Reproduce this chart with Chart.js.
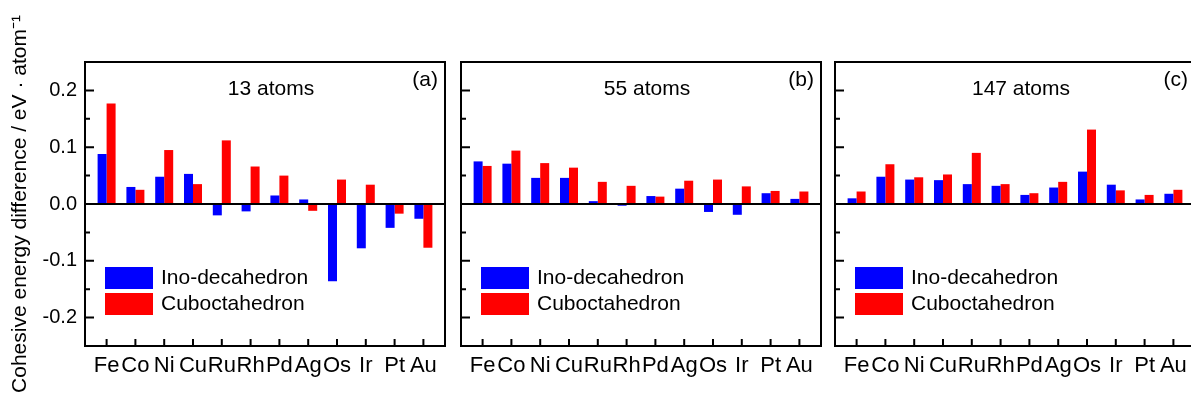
<!DOCTYPE html>
<html>
<head>
<meta charset="utf-8">
<script src="https://cdn.jsdelivr.net/npm/chart.js@4.4.0/dist/chart.umd.min.js"></script>
<style>
  html, body { margin: 0; padding: 0; background: #fff; overflow: hidden; width: 1191px; height: 399px; }
  .panel { position: absolute; top: 0; }
</style>
</head>
<body>
<div class="panel" style="left:0"><canvas id="chart-a" width="447" height="399"></canvas></div>
<div class="panel" style="left:455px"><canvas id="chart-b" width="368" height="399"></canvas></div>
<div class="panel" style="left:829px"><canvas id="chart-c" width="368" height="399"></canvas></div>
<script>
// Categories
const elements = ['Fe', 'Co', 'Ni', 'Cu', 'Ru', 'Rh', 'Pd', 'Ag', 'Os', 'Ir', 'Pt', 'Au'];

// Cohesive energy difference (eV/atom)
const ino13 = [0.088, 0.030, 0.048, 0.053, -0.020, -0.013, 0.015, 0.008, -0.136, -0.078, -0.042, -0.026];
const cubo13 = [0.177, 0.025, 0.095, 0.035, 0.112, 0.066, 0.050, -0.012, 0.043, 0.034, -0.017, -0.077];
const ino55 = [0.075, 0.071, 0.046, 0.046, 0.005, -0.003, 0.014, 0.027, -0.014, -0.019, 0.019, 0.009];
const cubo55 = [0.067, 0.094, 0.072, 0.064, 0.039, 0.032, 0.013, 0.041, 0.043, 0.031, 0.023, 0.022];
const ino147 = [0.010, 0.048, 0.043, 0.042, 0.035, 0.032, 0.016, 0.029, 0.057, 0.034, 0.008, 0.018];
const cubo147 = [0.022, 0.070, 0.047, 0.052, 0.090, 0.035, 0.019, 0.039, 0.131, 0.024, 0.016, 0.025];

// Axis ticks
const yMajorTicks = [-0.2, -0.1, 0, 0.1, 0.2];
const yMinorTicks = [-0.15, -0.05, 0.05, 0.15];
const yMin = -0.25;
const yMax = 0.25;

const seriesNames = ['Ino-decahedron', 'Cuboctahedron'];
const seriesColors = ['#0000ff', '#ff0000'];
const panelTitles = ['13 atoms', '55 atoms', '147 atoms'];
const panelTags = ['(a)', '(b)', '(c)'];
const yTitle = 'Cohesive energy difference / eV \u00b7 atom\u207b\u00b9';
const FONT = "'Liberation Sans', Arial, sans-serif";

// Frame, zero line, inward ticks, panel labels and legend
const panelFrame = {
    id: 'panelFrame',
    afterDatasetsDraw(chart, args, opts) {
        const ctx = chart.ctx;
        const a = chart.chartArea;
        const x = chart.scales.x;
        const y = chart.scales.y;
        ctx.save();
        ctx.strokeStyle = '#000';
        ctx.lineWidth = 2;

        const y0 = y.getPixelForValue(0);
        ctx.beginPath();
        ctx.moveTo(a.left, y0);
        ctx.lineTo(a.right, y0);
        ctx.stroke();

        ctx.strokeRect(a.left, a.top, a.right - a.left, a.bottom - a.top);

        ctx.beginPath();
        yMajorTicks.forEach(v => {
            const p = y.getPixelForValue(v);
            ctx.moveTo(a.left, p);
            ctx.lineTo(a.left + 9, p);
        });
        yMinorTicks.forEach(v => {
            const p = y.getPixelForValue(v);
            ctx.moveTo(a.left, p);
            ctx.lineTo(a.left + 5, p);
        });
        elements.forEach((e, i) => {
            const p = x.getPixelForValue(i);
            ctx.moveTo(p, a.bottom);
            ctx.lineTo(p, a.bottom - 7);
        });
        ctx.stroke();

        ctx.fillStyle = '#000';
        ctx.font = '21px ' + FONT;
        ctx.textBaseline = 'middle';
        ctx.textAlign = 'center';
        ctx.fillText(opts.title, (a.left + a.right) / 2 + 6, a.top + 27);
        ctx.textAlign = 'right';
        ctx.fillText(opts.tag, a.right - 7, a.top + 18);

        // legend in the lower left corner
        ctx.textAlign = 'left';
        chart.data.datasets.forEach((ds, i) => {
            const top = a.top + 205 + i * 26;
            ctx.fillStyle = ds.backgroundColor;
            ctx.fillRect(a.left + 20, top, 48, 22);
            ctx.fillStyle = '#000';
            ctx.fillText(ds.label, a.left + 76, top + 11);
        });
        ctx.restore();
    }
};

function makeChart(id, ino, cubo, idx) {
    const first = idx === 0;
    return new Chart(document.getElementById(id), {
        type: 'bar',
        data: {
            datasets: [
                { label: seriesNames[0], data: ino.map((v, i) => ({ x: i, y: v })), backgroundColor: seriesColors[0] },
                { label: seriesNames[1], data: cubo.map((v, i) => ({ x: i, y: v })), backgroundColor: seriesColors[1] }
            ]
        },
        options: {
            responsive: false,
            animation: false,
            devicePixelRatio: 1,
            layout: { padding: { top: 62, bottom: 0, left: first ? 0 : 6, right: 2 } },
            datasets: { bar: { categoryPercentage: 0.625, barPercentage: 1 } },
            plugins: {
                legend: { display: false },
                tooltip: { enabled: false },
                panelFrame: { title: panelTitles[idx], tag: panelTags[idx] }
            },
            scales: {
                x: {
                    type: 'linear',
                    offset: false,
                    min: -0.75,
                    max: elements.length - 0.25,
                    grid: { display: false, drawTicks: false, offset: false },
                    border: { display: false },
                    afterBuildTicks: s => { s.ticks = elements.map((e, i) => ({ value: i })); },
                    afterFit: s => { s.height = 53; },
                    ticks: {
                        autoSkip: false,
                        maxRotation: 0,
                        padding: 7,
                        color: '#000',
                        font: { family: FONT, size: 22 },
                        callback: v => elements[v]
                    }
                },
                y: {
                    min: yMin,
                    max: yMax,
                    grid: { display: false, drawTicks: false },
                    border: { display: false },
                    afterBuildTicks: s => { s.ticks = yMajorTicks.map(v => ({ value: v })); },
                    afterFit: s => { s.width = first ? 85 : 0; },
                    ticks: {
                        display: first,
                        padding: 8,
                        color: '#000',
                        font: { family: FONT, size: 20 },
                        callback: v => v.toFixed(1)
                    },
                    title: {
                        display: first,
                        text: yTitle,
                        color: '#000',
                        font: { family: FONT, size: 21 },
                        padding: { top: 8, bottom: 0 }
                    }
                }
            }
        },
        plugins: [panelFrame]
    });
}

makeChart('chart-a', ino13, cubo13, 0);
makeChart('chart-b', ino55, cubo55, 1);
makeChart('chart-c', ino147, cubo147, 2);
</script>
</body>
</html>
